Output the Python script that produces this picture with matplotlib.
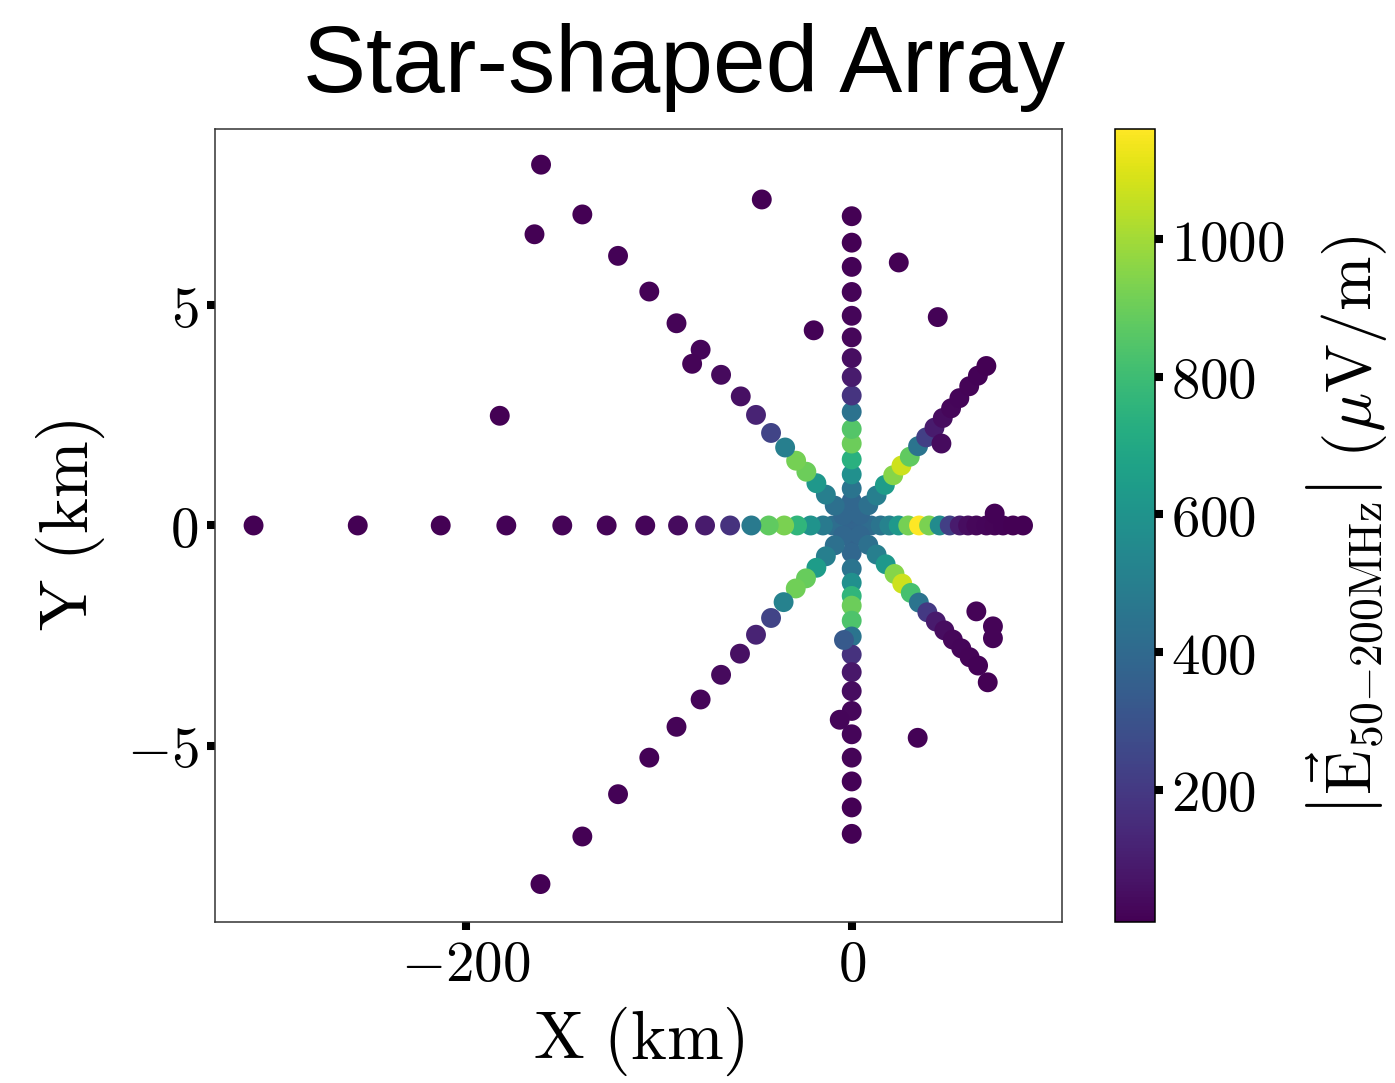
import matplotlib
matplotlib.use("Agg")
import matplotlib.pyplot as plt
from matplotlib.ticker import FuncFormatter

plt.rcParams['mathtext.fontset'] = 'cm'

# ---- antenna positions (km) and peak field |E| in 50-200 MHz (uV/m) ----
# east-west arm, west branch (y = 0)
west_x = [-4.8, -9.8, -14.9, -21.3, -28.3, -35.0, -43.0, -52.0, -63.0, -76.0,
          -90.0, -107.0, -127.0, -150.0, -179.0, -213.0, -256.0, -310.0]
west_v = [380, 420, 480, 600, 760, 930, 880, 480, 170, 90,
          40, 25, 20, 17, 14, 12, 10, 8]

# east-west arm, east branch (y = 0)
east_x = [5.0, 10.0, 15.0, 19.5, 24.3, 29.3, 34.9, 40.1, 45.6, 50.8,
          56.0, 60.3, 64.6, 69.8, 74.1, 78.4, 83.6, 88.8]
east_v = [380, 410, 450, 520, 620, 920, 1160, 930, 560, 220,
          90, 45, 30, 22, 18, 15, 12, 10]

# north-south arm (x = 0)
north_y = [0.28, 0.56, 0.84, 1.16, 1.50, 1.86, 2.19, 2.58, 2.95, 3.37,
           3.80, 4.27, 4.76, 5.30, 5.87, 6.42, 7.02]
north_v = [370, 390, 450, 580, 740, 900, 850, 440, 180, 90,
           50, 30, 22, 18, 15, 12, 10]
south_y = [-0.30, -0.62, -0.98, -1.30, -1.60, -1.82, -2.16, -2.52, -2.93, -3.33,
           -3.76, -4.21, -4.74, -5.27, -5.81, -6.40, -7.00]
south_v = [370, 390, 450, 580, 760, 900, 840, 450, 170, 80,
           45, 30, 22, 18, 15, 12, 10]

# north-east diagonal arm
ne_x = [4.3, 8.6, 12.9, 17.2, 21.5, 25.8, 30.1, 34.4, 38.6, 42.9,
        47.2, 51.5, 55.8, 60.9, 65.4, 69.8]
ne_y = [0.24, 0.46, 0.68, 0.92, 1.14, 1.36, 1.56, 1.80, 2.00, 2.22,
        2.44, 2.66, 2.89, 3.16, 3.40, 3.62]
ne_v = [390, 430, 500, 640, 950, 1070, 880, 450, 220, 90,
        45, 30, 22, 18, 14, 11]

# south-east diagonal arm
se_x = [4.3, 8.6, 12.9, 17.6, 22.2, 26.2, 30.6, 34.8, 39.2, 43.6,
        48.0, 52.4, 56.8, 61.1, 65.5, 70.5]
se_y = [-0.22, -0.44, -0.66, -0.88, -1.10, -1.32, -1.53, -1.75, -1.97, -2.18,
        -2.38, -2.59, -2.79, -2.99, -3.18, -3.56]
se_v = [390, 430, 500, 620, 950, 1070, 820, 450, 200, 90,
        45, 30, 22, 18, 14, 11]

# north-west diagonal arm
nw_x = [-4.4, -8.8, -13.4, -18.3, -23.5, -28.8, -34.5, -41.8, -49.6, -57.5,
        -67.7, -78.3, -90.8, -104.9, -121.1, -139.6, -161.0]
nw_y = [0.23, 0.45, 0.70, 0.96, 1.22, 1.47, 1.77, 2.10, 2.51, 2.93,
        3.42, 3.99, 4.59, 5.31, 6.12, 7.06, 8.19]
nw_v = [390, 430, 500, 620, 900, 920, 500, 240, 120, 55,
        35, 22, 18, 15, 13, 11, 9]

# south-west diagonal arm
sw_x = [-4.4, -8.8, -13.4, -18.3, -23.7, -29.0, -35.3, -41.8, -49.6, -57.9,
        -67.7, -78.3, -90.8, -104.9, -121.1, -139.6, -161.3]
sw_y = [-0.23, -0.45, -0.70, -0.96, -1.20, -1.43, -1.74, -2.10, -2.48, -2.91,
        -3.39, -3.95, -4.57, -5.27, -6.10, -7.06, -8.14]
sw_v = [390, 430, 500, 640, 890, 910, 520, 240, 120, 55,
        35, 22, 18, 15, 13, 11, 9]

# antennas off the arms
off_x = [-164.4, -182.4, -46.6, -19.7, 24.4, 44.6, -82.7, 46.5, 74.1,
         64.6, 73.2, 73.2, 34.2, -6.2, -4.0]
off_y = [6.61, 2.49, 7.40, 4.43, 5.97, 4.73, 3.67, 1.86, 0.27,
         -1.95, -2.29, -2.56, -4.82, -4.41, -2.60]
off_v = [10, 10, 12, 15, 12, 14, 20, 40, 15,
         20, 18, 18, 15, 25, 330]

# shower core antenna
core_x, core_y, core_v = [0.0], [0.0], [360]

# ---- assemble ----
xs = (core_x + west_x + east_x + [0.0] * len(north_y) + [0.0] * len(south_y)
      + ne_x + se_x + nw_x + sw_x + off_x)
ys = (core_y + [0.0] * len(west_x) + [0.0] * len(east_x) + north_y + south_y
      + ne_y + se_y + nw_y + sw_y + off_y)
vs = (core_v + west_v + east_v + north_v + south_v
      + ne_v + se_v + nw_v + sw_v + off_v)

fig = plt.figure(figsize=(13.95, 10.83), dpi=100)
ax = fig.add_axes([0.1541, 0.1487, 0.6072, 0.7322])
cax = fig.add_axes([0.7993, 0.1487, 0.0287, 0.7322])

sc = ax.scatter(xs, ys, c=vs, cmap='viridis', s=205, edgecolors='none')

ax.set_xlim(-330, 109)
ax.set_ylim(-9.0, 9.0)
ax.set_xticks([-200, 0])
ax.set_yticks([-5, 0, 5])
mfmt = FuncFormatter(lambda v, p: r'$%g$' % v)
ax.xaxis.set_major_formatter(mfmt)
ax.yaxis.set_major_formatter(mfmt)
ax.tick_params(direction='out', length=5.8, width=5.8, labelsize=41, pad=6)
for sp in ax.spines.values():
    sp.set_linewidth(1.1)
    sp.set_color('#333333')

ax.set_xlabel(r'$\mathrm{X\ (km)}$', fontsize=49, labelpad=8)
ax.set_ylabel(r'$\mathrm{Y\ (km)}$', fontsize=49, labelpad=14)

cb = fig.colorbar(sc, cax=cax)
cb.set_ticks([200, 400, 600, 800, 1000])
cb.ax.yaxis.set_major_formatter(mfmt)
cb.ax.tick_params(direction='out', length=5.8, width=5.8, labelsize=41, pad=6)
cb.outline.set_linewidth(1.1)
cb.set_label(r'$\left|\vec{\mathrm{E}}_{50{-}200\mathrm{MHz}}\right|\ (\mu\mathrm{V/m})$',
             fontsize=47, labelpad=14)

fig.text(0.4905, 0.915, 'Star-shaped Array', fontsize=68,
         family='Liberation Sans', ha='center', va='baseline')

fig.savefig('out.png', dpi=100, facecolor='white')
